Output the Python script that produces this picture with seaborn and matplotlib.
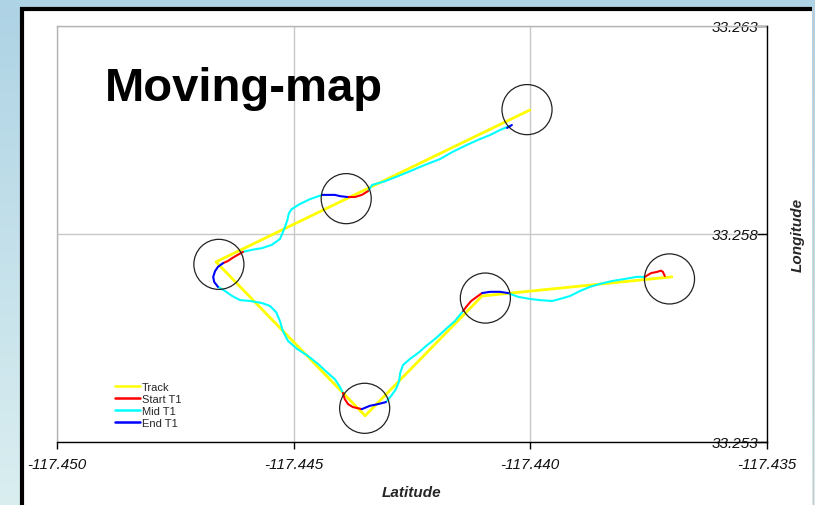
import numpy as np
import pandas as pd
import matplotlib
matplotlib.use("Agg")
import matplotlib.pyplot as plt
import seaborn as sns
from matplotlib.lines import Line2D
from matplotlib.patches import Rectangle

# ---------------- data ----------------
track_lon = [-117.44001, -117.44664, -117.44349, -117.44102, -117.43701]
track_lat = [33.26098, 33.25733, 33.25363, 33.25651, 33.25697]

circle_lon = [-117.44007, -117.44389, -117.44658, -117.44095, -117.44350, -117.43706]
circle_lat = [33.26099, 33.25885, 33.25727, 33.25646, 33.25381, 33.25692]

# Mid T1 segments (cyan)
mid_lon = [
    [-117.44043, -117.44064, -117.44085, -117.44111, -117.44138, -117.44165, -117.44191,
     -117.44223, -117.44254, -117.44280, -117.44307, -117.44334, -117.44343],
    [-117.44440, -117.44465, -117.44487, -117.44504, -117.44510, -117.44514, -117.44520,
     -117.44529, -117.44546, -117.44567, -117.44588, -117.44607],
    [-117.44660, -117.44645, -117.44630, -117.44613, -117.44592, -117.44567, -117.44550,
     -117.44537, -117.44529, -117.44523, -117.44512, -117.44493, -117.44470, -117.44449,
     -117.44430, -117.44413, -117.44402, -117.44396],
    [-117.44305, -117.44294, -117.44284, -117.44277, -117.44275, -117.44269, -117.44254,
     -117.44237, -117.44220, -117.44199, -117.44178, -117.44159, -117.44142],
    [-117.44047, -117.44026, -117.44001, -117.43980, -117.43954, -117.43937, -117.43916,
     -117.43895, -117.43874, -117.43853, -117.43827, -117.43800, -117.43775, -117.43758],
]
mid_lat = [
    [33.26060, 33.26050, 33.26038, 33.26026, 33.26012, 33.25997, 33.25980,
     33.25966, 33.25951, 33.25939, 33.25927, 33.25918, 33.25903],
    [33.25894, 33.25884, 33.25872, 33.25860, 33.25850, 33.25831, 33.25812,
     33.25788, 33.25774, 33.25766, 33.25762, 33.25757],
    [33.25673, 33.25663, 33.25651, 33.25641, 33.25639, 33.25634, 33.25627,
     33.25612, 33.25591, 33.25567, 33.25543, 33.25524, 33.25507, 33.25488,
     33.25468, 33.25451, 33.25432, 33.25418],
    [33.25396, 33.25411, 33.25427, 33.25447, 33.25466, 33.25485, 33.25500,
     33.25514, 33.25531, 33.25550, 33.25572, 33.25591, 33.25615],
    [33.25658, 33.25649, 33.25644, 33.25641, 33.25639, 33.25644, 33.25651,
     33.25663, 33.25673, 33.25680, 33.25687, 33.25692, 33.25697, 33.25697],
]

# Start T1 segments (red)
start_lon = [
    [-117.44343, -117.44356, -117.44370, -117.44387],
    [-117.44607, -117.44618, -117.44630, -117.44639, -117.44649],
    [-117.44396, -117.44392, -117.44385, -117.44375, -117.44356],
    [-117.44142, -117.44134, -117.44125, -117.44113, -117.44102],
    [-117.43758, -117.43745, -117.43732, -117.43724, -117.43720, -117.43716],
]
start_lat = [
    [33.25903, 33.25894, 33.25889, 33.25889],
    [33.25757, 33.25750, 33.25742, 33.25735, 33.25730],
    [33.25418, 33.25403, 33.25391, 33.25384, 33.25379],
    [33.25615, 33.25627, 33.25639, 33.25649, 33.25658],
    [33.25697, 33.25706, 33.25709, 33.25712, 33.25709, 33.25699],
]

# End T1 segments (blue)
end_lon = [
    [-117.44049, -117.44039],
    [-117.44387, -117.44402, -117.44413, -117.44440],
    [-117.44649, -117.44660, -117.44666, -117.44670, -117.44668, -117.44660],
    [-117.44356, -117.44339, -117.44322, -117.44305],
    [-117.44102, -117.44085, -117.44064, -117.44047],
]
end_lat = [
    [33.26055, 33.26062],
    [33.25889, 33.25891, 33.25894, 33.25894],
    [33.25730, 33.25721, 33.25711, 33.25697, 33.25685, 33.25673],
    [33.25379, 33.25387, 33.25391, 33.25396],
    [33.25658, 33.25661, 33.25661, 33.25658],
]

x_ticks = [-117.450, -117.445, -117.440, -117.435]
y_ticks = [33.253, 33.258, 33.263]
series_names = ["Track", "Start T1", "Mid T1", "End T1"]
series_colors = ["#FFFF00", "#FF0000", "#00FFFF", "#0000FF"]

# ---------------- figure ----------------
W, H = 815, 506
fig = plt.figure(figsize=(W / 100, H / 100), dpi=100)

# background gradient
bg = fig.add_axes([0, 0, 1, 1], zorder=-10)
grad = np.linspace(0, 1, 256).reshape(-1, 1)
top_c = np.array([0xAE, 0xD3, 0xE5]) / 255
bot_c = np.array([0xDA, 0xEE, 0xF0]) / 255
img = top_c[None, None, :] * (1 - grad[:, :, None]) + bot_c[None, None, :] * grad[:, :, None]
bg.imshow(img, aspect="auto", extent=[0, 1, 0, 1])
bg.set_axis_off()

# white panel with thick black top/left border
fig.add_artist(Rectangle((20 / W, 0), (812 - 20) / W, (H - 8) / H,
                         transform=fig.transFigure, facecolor="white",
                         edgecolor="none", zorder=-5))
fig.add_artist(Line2D([22 / W, 22 / W], [0, (H - 8) / H], transform=fig.transFigure,
                      color="black", lw=3.0, solid_capstyle="butt", zorder=-4))
fig.add_artist(Line2D([20 / W, 812 / W], [(H - 10) / H, (H - 10) / H],
                      transform=fig.transFigure, color="black", lw=3.0,
                      solid_capstyle="butt", zorder=-4))
fig.add_artist(Line2D([812.5 / W, 812.5 / W], [0, (H - 8) / H], transform=fig.transFigure,
                      color="#C8C8C8", lw=0.8, zorder=-4))

sns.set_style("white")
plt.rcParams["font.family"] = ["Liberation Sans", "DejaVu Sans"]

ax = fig.add_axes([57 / W, 1 - 443 / H, 710 / W, 416 / H])
ax.set_facecolor("none")

lw_map = {"Track": 2.0, "Start T1": 1.5, "Mid T1": 1.5, "End T1": 1.5}

def draw(lon, lat, name, z):
    df = pd.DataFrame({"lon": lon, "lat": lat})
    sns.lineplot(data=df, x="lon", y="lat", sort=False, estimator=None, ax=ax,
                 color=series_colors[series_names.index(name)], lw=lw_map[name],
                 zorder=z, legend=False)

draw(track_lon, track_lat, "Track", 3)
for lo, la in zip(start_lon, start_lat):
    draw(lo, la, "Start T1", 5)
for lo, la in zip(mid_lon, mid_lat):
    draw(lo, la, "Mid T1", 4)
for lo, la in zip(end_lon, end_lat):
    draw(lo, la, "End T1", 6)

cdf = pd.DataFrame({"lon": circle_lon, "lat": circle_lat})
sns.scatterplot(data=cdf, x="lon", y="lat", ax=ax, s=1300, marker="o",
                facecolor="none", edgecolor="#222222", linewidth=0.9, zorder=7,
                legend=False)

ax.set_xlim(x_ticks[0], x_ticks[-1])
ax.set_ylim(y_ticks[0], y_ticks[-1])
ax.set_xticks(x_ticks)
ax.set_yticks(y_ticks)
ax.set_xticklabels([f"{v:.3f}" for v in x_ticks])
ax.set_yticklabels([f"{v:.3f}" for v in y_ticks])
ax.grid(True, color="#C8C8C8", lw=1.0)
ax.set_axisbelow(True)

for s in ["left", "top"]:
    ax.spines[s].set_color("#B4B4B4")
    ax.spines[s].set_linewidth(1.0)
for s in ["bottom", "right"]:
    ax.spines[s].set_color("black")
    ax.spines[s].set_linewidth(1.0)
    ax.spines[s].set_zorder(8)

tick_font = ["Liberation Sans Narrow", "Liberation Sans", "DejaVu Sans"]
ax.tick_params(axis="x", direction="out", length=5, width=1, color="black",
               pad=6, labelsize=11, bottom=True)
ax.yaxis.tick_right()
ax.tick_params(axis="y", direction="in", length=7, width=1, color="black",
               pad=-6, labelsize=11, right=True, left=False,
               labelright=True, labelleft=False)
for lab in ax.get_xticklabels():
    lab.set_family(tick_font)
    lab.set_style("italic")
    lab.set_color("#111111")
for lab in ax.get_yticklabels():
    lab.set_family(tick_font)
    lab.set_style("italic")
    lab.set_color("#111111")
    lab.set_horizontalalignment("right")

ax.set_xlabel("Latitude", fontsize=11, fontweight="bold", fontstyle="italic", labelpad=10)
ax.yaxis.set_label_position("right")
ax.set_ylabel("Longitude", fontsize=11, fontweight="bold", fontstyle="italic",
              labelpad=17, rotation=90)

ax.text(0.068, 0.822, "Moving-map", transform=ax.transAxes, fontsize=34,
        fontweight="bold", ha="left", va="baseline", color="black")

handles = [Line2D([], [], color=c, lw=1.8) for c in series_colors]
ax.legend(handles, series_names, loc="upper left", bbox_to_anchor=(0.081, 0.145),
          frameon=False, fontsize=8, handlelength=2.3, handletextpad=0.15,
          labelspacing=0.2, borderpad=0, borderaxespad=0)

fig.savefig("out.png", dpi=100)
